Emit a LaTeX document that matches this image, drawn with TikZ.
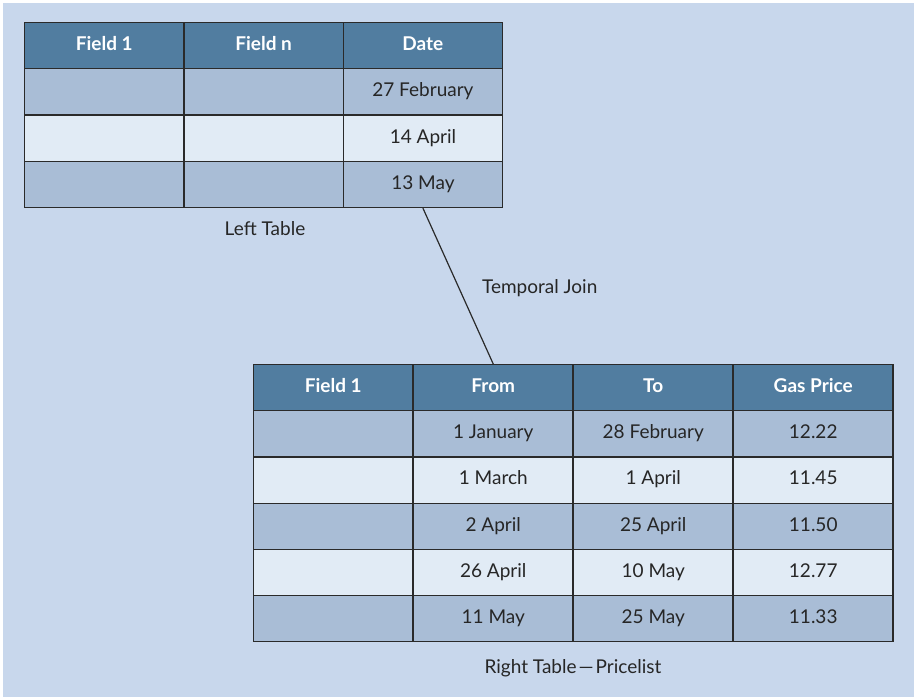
\documentclass[tikz,border=0pt]{standalone}
\usepackage{fontspec}
\setmainfont{Lato}
\definecolor{panelblue}{HTML}{C8D7EC}
\definecolor{headblue}{HTML}{517DA0}
\definecolor{rowdark}{HTML}{A9BDD6}
\definecolor{rowlight}{HTML}{E1EBF5}
\definecolor{gridline}{HTML}{2A2A2A}
\tikzset{
  cell/.style={draw=gridline, line width=1.2pt, inner sep=0pt, anchor=north west,
    minimum width=159.3pt, minimum height=46.2pt, text=black!85,
    text height=0.98em, text depth=0pt,
    font=\fontsize{19}{22}\selectfont},
  headcell/.style={cell, fill=headblue, text=white, font=\fontsize{19}{22}\selectfont\bfseries},
  darkcell/.style={cell, fill=rowdark},
  lightcell/.style={cell, fill=rowlight},
  caption/.style={text=black!85, font=\fontsize{19}{22}\selectfont}
}

\begin{document}
\begin{tikzpicture}[x=1pt,y=-1pt]
  \useasboundingbox (0,0) rectangle (914,697);
  \fill[panelblue] (3,3) rectangle (914,697);

  % left table
  \foreach \txt [count=\c from 0] in {Field 1, Field n, Date}
    \node[headcell] (L-0-\c) at ({24+159.33*\c},22) {\txt};
  \foreach \date/\shade [count=\r] in {27 February/darkcell, 14 April/lightcell, 13 May/darkcell} {
    \node[\shade] (L-\r-0) at (24,{22+46.25*\r}) {};
    \node[\shade] (L-\r-1) at (183.33,{22+46.25*\r}) {};
    \node[\shade] (L-\r-2) at (342.67,{22+46.25*\r}) {\date};
  }
  \node[caption] (lcap) at (265,229) {Left Table};

  % right table
  \foreach \txt [count=\c from 0] in {Field 1, From, To, Gas Price}
    \node[headcell] (R-0-\c) at ({253+160*\c},364) {\txt};
  \foreach \from/\to/\price/\shade [count=\r] in {
      1 January/28 February/12.22/darkcell,
      1 March/1 April/11.45/lightcell,
      2 April/25 April/11.50/darkcell,
      26 April/10 May/12.77/lightcell,
      11 May/25 May/11.33/darkcell} {
    \node[\shade] (R-\r-0) at (253,{364+46.17*\r}) {};
    \node[\shade] (R-\r-1) at (413,{364+46.17*\r}) {\from};
    \node[\shade] (R-\r-2) at (573,{364+46.17*\r}) {\to};
    \node[\shade] (R-\r-3) at (733,{364+46.17*\r}) {\price};
  }
  \node[caption] (rcap) at (573,668) {Right Table\kern2pt—\kern2pt Pricelist};

  % join
  \draw[gridline, line width=1.2pt] (L-3-2.south) -- node[caption, pos=0.516, anchor=west, xshift=19pt] (joinlbl) {Temporal Join} (R-0-1.north);
\end{tikzpicture}
\end{document}
